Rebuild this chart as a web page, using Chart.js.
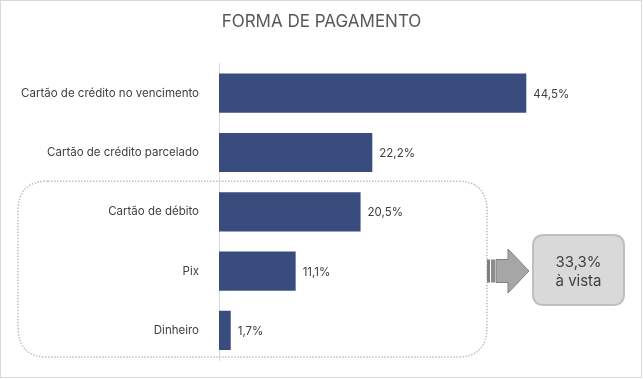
<!DOCTYPE html>
<html>
<head>
<meta charset="utf-8">
<script src="https://cdn.jsdelivr.net/npm/chart.js@4.4.0/dist/chart.umd.min.js"></script>
<style>
  html, body { margin: 0; padding: 0; background: #fff; }
  #wrap { position: relative; width: 643px; height: 379px; }
</style>
</head>
<body>
<div id="wrap"><canvas id="payChart" width="643" height="379"></canvas></div>
<script>
// DATA
const categories = [
  "Cartão de crédito no vencimento",
  "Cartão de crédito parcelado",
  "Cartão de débito",
  "Pix",
  "Dinheiro",
];
const shares = [44.5, 22.2, 20.5, 11.1, 1.7];
// categories grouped as "à vista"
const cashGroup = [2, 3, 4];
const cashLabel = "à vista";

const FONT = "Inter, 'Noto Sans', sans-serif";
const fmt = (v) => v.toFixed(1).replace(".", ",") + "%";

function roundRect(ctx, x, y, w, h, r) {
  ctx.beginPath();
  ctx.moveTo(x + r, y);
  ctx.lineTo(x + w - r, y);
  ctx.quadraticCurveTo(x + w, y, x + w, y + r);
  ctx.lineTo(x + w, y + h - r);
  ctx.quadraticCurveTo(x + w, y + h, x + w - r, y + h);
  ctx.lineTo(x + r, y + h);
  ctx.quadraticCurveTo(x, y + h, x, y + h - r);
  ctx.lineTo(x, y + r);
  ctx.quadraticCurveTo(x, y, x + r, y);
  ctx.closePath();
}

// VALUE LABELS AT BAR ENDS
const valueLabels = {
  id: "valueLabels",
  afterDatasetsDraw(chart) {
    const ctx = chart.ctx;
    const meta = chart.getDatasetMeta(0);
    ctx.save();
    ctx.font = "11.5px " + FONT;
    ctx.fillStyle = "#404040";
    ctx.textAlign = "left";
    ctx.textBaseline = "middle";
    meta.data.forEach((bar, i) => {
      ctx.fillText(fmt(shares[i]), bar.x + 7, bar.y + 1);
    });
    ctx.restore();
  },
};

// DOTTED GROUP, ARROW AND CALLOUT BOX
const groupCallout = {
  id: "groupCallout",
  afterDraw(chart) {
    const ctx = chart.ctx;
    const yScale = chart.scales.y;
    const step = yScale.getPixelForValue(1) - yScale.getPixelForValue(0);
    const top = yScale.getPixelForValue(cashGroup[0]) - step / 2 - 1;
    const bottom = yScale.getPixelForValue(cashGroup[cashGroup.length - 1]) + step / 2 - 3;
    const left = 18, right = 487;
    ctx.save();

    // dotted rounded rect
    ctx.strokeStyle = "#bfbfbf";
    ctx.lineWidth = 1.5;
    ctx.setLineDash([1.5, 1.5]);
    roundRect(ctx, left, top, right - left, bottom - top, 30);
    ctx.stroke();
    ctx.setLineDash([]);

    // striped arrow
    const midY = 271;
    ctx.fillStyle = "#a6a6a6";
    ctx.strokeStyle = "#808080";
    ctx.lineWidth = 1;
    ctx.beginPath();
    ctx.moveTo(496, midY - 11.5);
    ctx.lineTo(508, midY - 11.5);
    ctx.lineTo(508, midY - 22);
    ctx.lineTo(529, midY);
    ctx.lineTo(508, midY + 22);
    ctx.lineTo(508, midY + 11.5);
    ctx.lineTo(496, midY + 11.5);
    ctx.closePath();
    ctx.fill();
    ctx.stroke();
    ctx.fillStyle = "#7f7f7f";
    ctx.fillRect(487, midY - 11.5, 3, 23);
    ctx.fillStyle = "#8c8c8c";
    ctx.fillRect(491, midY - 11.5, 4, 23);

    // callout box
    ctx.fillStyle = "#d9d9d9";
    ctx.strokeStyle = "#bfbfbf";
    ctx.lineWidth = 2;
    roundRect(ctx, 533, 235, 91, 70, 11);
    ctx.fill();
    ctx.stroke();

    const total = cashGroup.reduce((s, i) => s + shares[i], 0);
    ctx.fillStyle = "#404040";
    ctx.font = "15px " + FONT;
    ctx.textAlign = "center";
    ctx.textBaseline = "middle";
    ctx.fillText(fmt(total), 578.5, 262);
    ctx.fillText(cashLabel, 578.5, 281);

    // outer frame
    ctx.strokeStyle = "#d9d9d9";
    ctx.lineWidth = 1;
    ctx.strokeRect(0.5, 0.5, 641, 377);
    ctx.restore();
  },
};

// CREATE THE BAR CHART
const payCanvas = document.getElementById("payChart");
let payChart = new Chart(payCanvas, {
  type: "bar",
  data: {
    labels: categories,
    datasets: [
      {
        data: shares,
        backgroundColor: "#394c7e",
        borderWidth: 0,
        categoryPercentage: 1,
        barPercentage: 0.66,
      },
    ],
  },
  options: {
    indexAxis: "y",
    responsive: false,
    animation: false,
    layout: {
      padding: { left: 0, right: 0, top: 0, bottom: 15.5 },
    },
    scales: {
      x: {
        display: false,
        min: 0,
        max: 61.4,
      },
      y: {
        afterFit: (scale) => {
          scale.width = 219;
        },
        grid: { display: false },
        border: { display: true, color: "#d9d9d9", width: 1 },
        ticks: {
          color: "#404040",
          font: { family: FONT, size: 11.5 },
          padding: 12,
        },
      },
    },
    plugins: {
      legend: { display: false },
      tooltip: { enabled: false },
      title: {
        display: true,
        text: "FORMA DE PAGAMENTO",
        color: "#595959",
        font: { family: FONT, size: 17, weight: "normal" },
        padding: { top: 12, bottom: 31.1 },
      },
    },
  },
  plugins: [valueLabels, groupCallout],
});
</script>
</body>
</html>
